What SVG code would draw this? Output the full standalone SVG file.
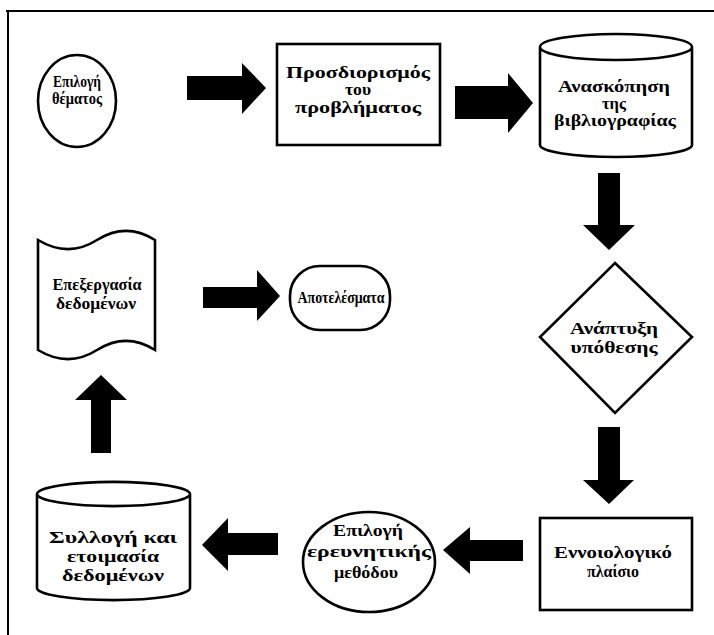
<svg xmlns="http://www.w3.org/2000/svg" width="714" height="635" viewBox="0 0 714 635">
<style>
.shape{fill:#fff;stroke:#000;stroke-width:2.6}
.arrow{fill:#000}
.t{font-family:"Liberation Serif","Times New Roman",serif;font-weight:bold;font-size:16px;fill:#000;text-anchor:middle}
.frame{stroke:#000;stroke-width:2;fill:none}
</style>
<rect width="714" height="635" fill="#fff"/>
<path class="frame" d="M6,11 H714 M8,11 V635"/>
<g id="n1">
<ellipse class="shape" cx="77" cy="101" rx="39" ry="46"/>
<text class="t" x="77" y="87" textLength="48" lengthAdjust="spacingAndGlyphs">Επιλογή</text>
<text class="t" x="77" y="104" textLength="50" lengthAdjust="spacingAndGlyphs">θέματος</text>
</g>
<g id="n2">
<rect class="shape" x="277" y="44" width="163" height="101"/>
<text class="t" x="358" y="78" textLength="144" lengthAdjust="spacingAndGlyphs">Προσδιορισμός</text>
<text class="t" x="358" y="95" textLength="26" lengthAdjust="spacingAndGlyphs">του</text>
<text class="t" x="358" y="113" textLength="126" lengthAdjust="spacingAndGlyphs">προβλήματος</text>
</g>
<g id="n3">
<path class="shape" d="M540,47 V145 A76,12 0 0 0 692,145 V47 A76,13 0 0 0 540,47 A76,13 0 0 0 692,47"/>
<text class="t" x="614" y="92" textLength="112" lengthAdjust="spacingAndGlyphs">Ανασκόπηση</text>
<text class="t" x="614" y="109" textLength="24" lengthAdjust="spacingAndGlyphs">της</text>
<text class="t" x="615" y="126" textLength="122" lengthAdjust="spacingAndGlyphs">βιβλιογραφίας</text>
</g>
<g id="n4">
<polygon class="shape" points="615,263 692,337 615,413 540,337"/>
<text class="t" x="614" y="334" textLength="88" lengthAdjust="spacingAndGlyphs">Ανάπτυξη</text>
<text class="t" x="614" y="353" textLength="87" lengthAdjust="spacingAndGlyphs">υπόθεσης</text>
</g>
<g id="n5">
<rect class="shape" x="540" y="518" width="152" height="92"/>
<text class="t" x="613" y="558" textLength="118" lengthAdjust="spacingAndGlyphs">Εννοιολογικό</text>
<text class="t" x="613" y="577" textLength="52" lengthAdjust="spacingAndGlyphs">πλαίσιο</text>
</g>
<g id="n6">
<ellipse class="shape" cx="369" cy="562" rx="66" ry="50"/>
<text class="t" x="368" y="536" textLength="70" lengthAdjust="spacingAndGlyphs">Επιλογή</text>
<text class="t" x="369" y="557" textLength="124" lengthAdjust="spacingAndGlyphs">ερευνητικής</text>
<text class="t" x="366" y="578" textLength="64" lengthAdjust="spacingAndGlyphs">μεθόδου</text>
</g>
<g id="n7">
<path class="shape" d="M37,494 V588 A76,12 0 0 0 190,588 V494 A76,12 0 0 0 37,494 A76,12 0 0 0 190,494"/>
<text class="t" x="113" y="543" textLength="128" lengthAdjust="spacingAndGlyphs">Συλλογή και</text>
<text class="t" x="113" y="562" textLength="92" lengthAdjust="spacingAndGlyphs">ετοιμασία</text>
<text class="t" x="113" y="581" textLength="102" lengthAdjust="spacingAndGlyphs">δεδομένων</text>
</g>
<g id="n8">
<path class="shape" d="M38,240 C58,252 78,252 97,240 C116,228 136,228 155,240 V350 C136,338 116,338 97,350 C78,362 58,362 38,350 Z"/>
<text class="t" x="97" y="290" textLength="89" lengthAdjust="spacingAndGlyphs">Επεξεργασία</text>
<text class="t" x="96" y="309" textLength="80" lengthAdjust="spacingAndGlyphs">δεδομένων</text>
</g>
<g id="n9">
<rect class="shape" x="290" y="266" width="100" height="64" rx="30" ry="30"/>
<text class="t" x="341" y="303" textLength="87" lengthAdjust="spacingAndGlyphs">Αποτελέσματα</text>
</g>
<g id="connectors">
<polygon class="arrow" points="187,76 242,76 242,63 266,88 242,114 242,100 187,100"/>
<polygon class="arrow" points="455,86 508,86 508,73 533,103 508,133 508,119 455,119"/>
<polygon class="arrow" points="598,173 620,173 620,225 635,225 609,250 583,225 598,225"/>
<polygon class="arrow" points="598,427 620,427 620,480 634,480 609,504 583,480 598,480"/>
<polygon class="arrow" points="523,540 523,561 470,561 470,574 443,550 470,527 470,540"/>
<polygon class="arrow" points="278,533 278,555 228,555 228,571 202,545 228,518 228,533"/>
<polygon class="arrow" points="91,453 111,453 111,400 127,400 101,375 75,400 91,400"/>
<polygon class="arrow" points="203,287 257,287 257,270 280,296 257,321 257,308 203,308"/>
</g>
</svg>
